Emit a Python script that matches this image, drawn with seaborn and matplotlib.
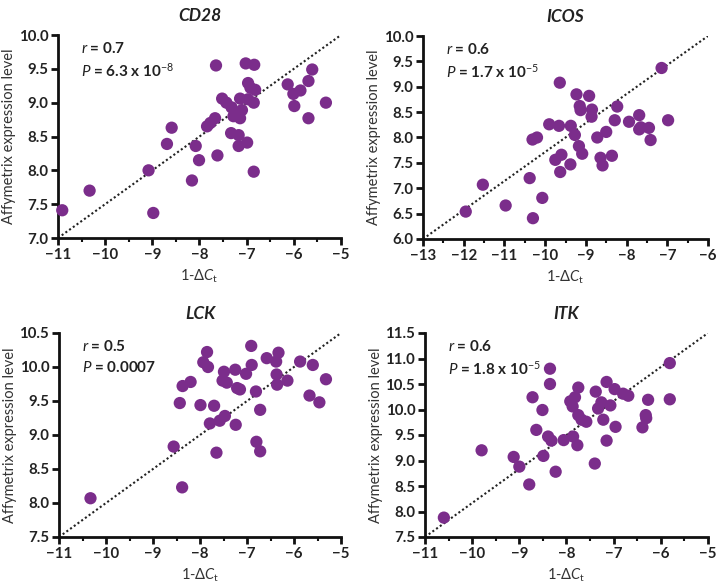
import numpy as np
import pandas as pd
import matplotlib
matplotlib.use("Agg")
import matplotlib.pyplot as plt
from matplotlib.ticker import MultipleLocator
import seaborn as sns

sns.set_theme(style="ticks")
plt.rcParams['font.family'] = ['Lato', 'DejaVu Sans']
plt.rcParams['mathtext.fontset'] = 'custom'
plt.rcParams['mathtext.rm'] = 'Lato'
plt.rcParams['mathtext.it'] = 'Lato:italic'
plt.rcParams['mathtext.bf'] = 'Lato:bold'

# ---------------- data ----------------
genes = ["CD28", "ICOS", "LCK", "ITK"]

cd28_x = [-10.91, -10.33, -8.98, -9.08, -8.69, -8.59, -8.16, -8.08, -8.01, -7.62,
          -7.65, -7.84, -7.77, -7.67, -7.52, -7.43, -7.32, -7.28, -7.33, -7.17,
          -7.17, -7.14, -7.14, -7.10, -6.99, -7.02, -6.97, -6.92, -6.97, -6.84,
          -6.82, -6.85, -6.85, -6.13, -6.01, -5.99, -5.86, -5.69, -5.69, -5.61, -5.32]
cd28_y = [7.41, 7.70, 7.37, 8.00, 8.39, 8.63, 7.85, 8.36, 8.15, 8.22,
          9.55, 8.65, 8.70, 8.77, 9.06, 9.00, 8.93, 8.80, 8.55, 8.52,
          8.36, 8.77, 9.06, 8.89, 8.41, 9.58, 9.29, 9.22, 9.05, 9.56,
          9.19, 9.00, 7.98, 9.27, 9.13, 8.95, 9.18, 9.32, 8.77, 9.49, 9.00]

icos_x = [-11.95, -11.53, -10.97, -10.38, -10.30, -10.07, -10.31, -10.20, -9.90, -9.66,
          -9.64, -9.75, -9.60, -9.63, -9.38, -9.37, -9.27, -9.23, -9.15, -9.13,
          -9.17, -9.09, -8.92, -8.85, -8.86, -8.72, -8.64, -8.59, -8.50, -8.36,
          -8.29, -8.23, -7.94, -7.69, -7.65, -7.69, -7.45, -7.41, -7.14, -6.98]
icos_y = [6.54, 7.07, 6.66, 7.20, 6.41, 6.81, 7.96, 8.00, 8.26, 8.23,
          9.08, 7.56, 7.66, 7.32, 7.47, 8.23, 8.05, 8.85, 8.62, 8.54,
          7.83, 7.68, 8.82, 8.55, 8.41, 8.00, 7.60, 7.45, 8.11, 7.64,
          8.34, 8.61, 8.31, 8.44, 8.20, 8.16, 8.19, 7.95, 9.37, 8.34]

lck_x = [-10.33, -8.38, -8.56, -8.43, -8.37, -8.20, -7.99, -7.93, -7.85, -7.83,
         -7.79, -7.70, -7.65, -7.58, -7.49, -7.52, -7.43, -7.47, -7.25, -7.24,
         -7.21, -7.15, -7.02, -6.91, -6.90, -6.81, -6.80, -6.72, -6.72, -6.58,
         -6.38, -6.33, -6.37, -6.36, -6.14, -5.87, -5.60, -5.67, -5.46, -5.32]
lck_y = [8.07, 8.23, 8.83, 9.47, 9.72, 9.78, 9.44, 10.07, 10.22, 10.00,
         9.17, 9.43, 8.74, 9.21, 9.93, 9.80, 9.77, 9.28, 9.96, 9.15,
         9.69, 9.67, 9.90, 10.31, 10.03, 9.64, 8.90, 8.76, 9.37, 10.13,
         10.08, 10.21, 9.89, 9.74, 9.80, 10.08, 10.03, 9.58, 9.48, 9.82]

itk_x = [-10.60, -9.80, -9.12, -9.00, -8.79, -8.72, -8.64, -8.51, -8.49, -8.35,
         -8.35, -8.39, -8.32, -8.23, -8.06, -7.92, -7.87, -7.82, -7.86, -7.75,
         -7.75, -7.77, -7.68, -7.58, -7.40, -7.38, -7.33, -7.26, -7.22, -7.15,
         -7.15, -7.07, -6.98, -6.96, -6.80, -6.69, -6.39, -6.32, -6.31, -6.27,
         -5.81, -5.81]
itk_y = [7.88, 9.20, 9.07, 8.88, 8.53, 10.24, 9.60, 9.99, 9.09, 10.80,
         10.50, 9.47, 9.39, 8.78, 9.40, 10.16, 10.06, 10.24, 9.47, 10.43,
         9.89, 9.30, 9.80, 9.76, 8.94, 10.35, 10.02, 10.14, 9.80, 9.39,
         10.54, 10.08, 10.40, 9.66, 10.31, 10.27, 9.65, 9.89, 9.83, 10.19,
         10.91, 10.20]

xs = [cd28_x, icos_x, lck_x, itk_x]
ys = [cd28_y, icos_y, lck_y, itk_y]

# fit line endpoints
line_x = [[-11, -5], [-13, -6], [-11, -5], [-11, -5]]
line_y = [[7.0, 10.0], [6.0, 10.0], [7.5, 10.5], [7.5, 11.5]]

xlims = [(-11, -5), (-13, -6), (-11, -5), (-11, -5)]
ylims = [(7.0, 10.0), (6.0, 10.0), (7.5, 10.5), (7.5, 11.5)]
ysteps = [0.5, 0.5, 0.5, 0.5]

r_text = ["0.7", "0.6", "0.5", "0.6"]
p_text = [r"6.3 x 10$^{-8}$", r"1.7 x 10$^{-5}$", "0.0007", r"1.8 x 10$^{-5}$"]

# ---------------- figure ----------------
W, H = 721, 583
fig = plt.figure(figsize=(W / 100, H / 100), dpi=100)
fig.patch.set_facecolor("white")

# axes boxes in pixels: left, right, top, bottom
boxes = [(58, 341, 35, 238), (423, 708, 36, 239), (59, 341, 333, 537), (425, 708, 333, 537)]

purple = "#7B2D8B"
for i, g in enumerate(genes):
    l, r, t, b = boxes[i]
    ax = fig.add_axes([l / W, 1 - b / H, (r - l) / W, (b - t) / H])
    df = pd.DataFrame({"x": xs[i], "y": ys[i]})
    ax.plot(line_x[i], line_y[i], linestyle=(0, (1, 1.2)), color="#222222", lw=1.5, zorder=1)
    sns.scatterplot(data=df, x="x", y="y", ax=ax, s=78, color=purple,
                    edgecolor="none", linewidth=0, zorder=3, clip_on=False)
    ax.set_xlim(*xlims[i])
    ax.set_ylim(*ylims[i])
    ax.xaxis.set_major_locator(MultipleLocator(1))
    ax.xaxis.set_minor_locator(MultipleLocator(0.5))
    ax.yaxis.set_major_locator(MultipleLocator(ysteps[i]))
    ax.yaxis.set_major_formatter(matplotlib.ticker.FormatStrFormatter("%.1f"))
    ax.xaxis.set_major_formatter(matplotlib.ticker.FuncFormatter(
        lambda v, p: ("\u2212%d" % abs(v)) if v < 0 else "%d" % v))
    for s in ["top", "right"]:
        ax.spines[s].set_visible(False)
    for s in ["left", "bottom"]:
        ax.spines[s].set_linewidth(2.0)
        ax.spines[s].set_color("#111111")
    ax.tick_params(axis="both", which="major", length=5, width=2, color="#111111",
                   labelsize=10.8, pad=2, labelcolor="#222222")
    ax.tick_params(axis="x", which="minor", length=3, width=1.5, color="#111111")
    for lab in ax.get_xticklabels() + ax.get_yticklabels():
        lab.set_fontweight("bold")
    ax.set_xlabel(r"1-Δ$\mathit{C}_\mathrm{t}$", fontsize=10.5, color="#333333", labelpad=4)
    ax.set_ylabel("Affymetrix expression level", fontsize=10.5, color="#333333", labelpad=2)
    ax.set_title(g, fontsize=12.5, fontweight="bold", fontstyle="italic", pad=10, color="#222222")
    ax.text(0.08, 0.97, r"$\mathit{r}$ = " + r_text[i], transform=ax.transAxes,
            fontsize=11, fontweight="bold", va="top", color="#222222")
    ax.text(0.08, 0.87, r"$\mathit{P}$ = " + p_text[i], transform=ax.transAxes,
            fontsize=11, fontweight="bold", va="top", color="#222222")
    ax.set_facecolor("white")

fig.savefig("out.png", dpi=100)
